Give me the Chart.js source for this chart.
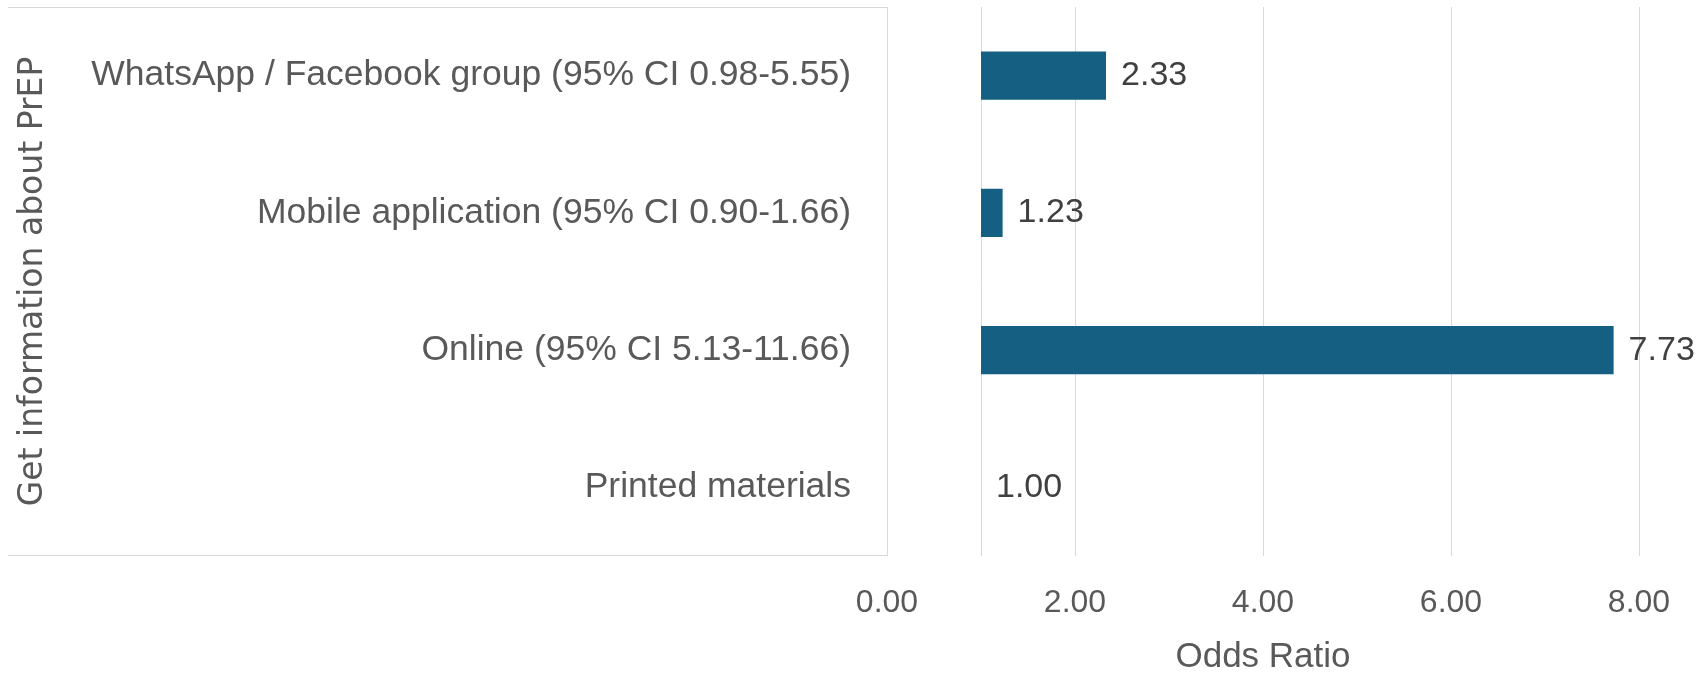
<!DOCTYPE html>
<html>
<head>
<meta charset="utf-8">
<title>Get information about PrEP - Odds Ratio</title>
<script src="https://cdn.jsdelivr.net/npm/chart.js@4/dist/chart.umd.min.js"></script>
<style>
  html, body { margin: 0; padding: 0; background: #fff; }
  #wrap { width: 1699px; height: 674px; position: relative; }
</style>
</head>
<body>
<div id="wrap"><canvas id="orChart"></canvas></div>
<script>
  'use strict';

  const categories = [
    'WhatsApp / Facebook group (95% CI 0.98-5.55)',
    'Mobile application (95% CI 0.90-1.66)',
    'Online (95% CI 5.13-11.66)',
    'Printed materials'
  ];
  const oddsRatios = [2.33, 1.23, 7.73, 1.00];
  const referenceOR = 1;              // bars grow out of OR = 1
  const tickValues = [0, 2, 4, 6, 8];

  const GRID = '#d9d9d9';
  const TEXT = '#595959';

  // value labels at the end of each bar + the frame round the label area
  const extras = {
    id: 'extras',
    afterDatasetsDraw(chart) {
      const ctx = chart.ctx;
      const meta = chart.getDatasetMeta(0);
      ctx.save();
      ctx.font = '34px "Liberation Sans", Arial, sans-serif';
      ctx.fillStyle = '#404040';
      ctx.textAlign = 'left';
      ctx.textBaseline = 'middle';
      meta.data.forEach((bar, i) => {
        ctx.fillText(oddsRatios[i].toFixed(2), bar.x + 15, bar.y);
      });
      ctx.restore();
    },
    beforeDatasetsDraw(chart) {
      const { ctx, chartArea } = chart;
      ctx.save();
      ctx.strokeStyle = GRID;
      ctx.lineWidth = 1;
      ctx.beginPath();
      ctx.moveTo(8, Math.round(chartArea.top) + 0.5);
      ctx.lineTo(chartArea.left, Math.round(chartArea.top) + 0.5);
      ctx.moveTo(8, Math.round(chartArea.bottom) - 0.5);
      ctx.lineTo(chartArea.left, Math.round(chartArea.bottom) - 0.5);
      ctx.stroke();
      ctx.restore();
    }
  };

  // fixed axis sizes; drop the label overhang padding so the plot runs edge to edge
  function noOverhang(scale) {
    scale.paddingTop = 0;
    scale.paddingBottom = 0;
    scale.paddingLeft = 0;
    scale.paddingRight = 0;
  }

  new Chart(document.getElementById('orChart'), {
    type: 'bar',
    data: {
      labels: categories,
      datasets: [{
        label: 'Odds Ratio',
        data: oddsRatios.map(v => [referenceOR, v]),
        backgroundColor: '#156082',
        borderWidth: 0,
        barPercentage: 0.35,
        categoryPercentage: 1.0
      }]
    },
    options: {
      indexAxis: 'y',
      responsive: true,
      maintainAspectRatio: false,
      animation: false,
      layout: { padding: { left: 0, top: 7, right: 60, bottom: 0 } },
      plugins: { legend: { display: false }, tooltip: { enabled: false } },
      scales: {
        x: {
          min: 0,
          max: 8,
          afterBuildTicks(scale) {
            const vals = tickValues.concat([referenceOR]).sort((a, b) => a - b);
            scale.ticks = vals.map(v => ({ value: v }));
          },
          afterFit(scale) { scale.height = 118; noOverhang(scale); },
          grid: { color: GRID, lineWidth: 1, drawTicks: false },
          border: { display: false },
          ticks: {
            padding: 28,
            color: TEXT,
            font: { size: 32, family: '"Liberation Sans", Arial, sans-serif' },
            callback: v => (tickValues.includes(v) ? v.toFixed(2) : '')
          },
          title: {
            display: true,
            text: 'Odds Ratio',
            color: TEXT,
            font: { size: 35, family: '"Liberation Sans", Arial, sans-serif', lineHeight: 1.0 },
            padding: { top: 0, bottom: -1 }
          }
        },
        y: {
          afterFit(scale) { scale.width = 887; noOverhang(scale); },
          grid: { display: false, drawTicks: false },
          border: { display: false },
          ticks: {
            padding: 36,
            color: TEXT,
            autoSkip: false,
            font: { size: 35.5, family: '"Liberation Sans", Arial, sans-serif' }
          },
          title: {
            display: true,
            text: 'Get information about PrEP',
            color: TEXT,
            font: { size: 33, family: '"DejaVu Sans", sans-serif', lineHeight: 1.2 },
            padding: { top: 14, bottom: 0 }
          }
        }
      }
    },
    plugins: [extras]
  });
</script>
</body>
</html>
